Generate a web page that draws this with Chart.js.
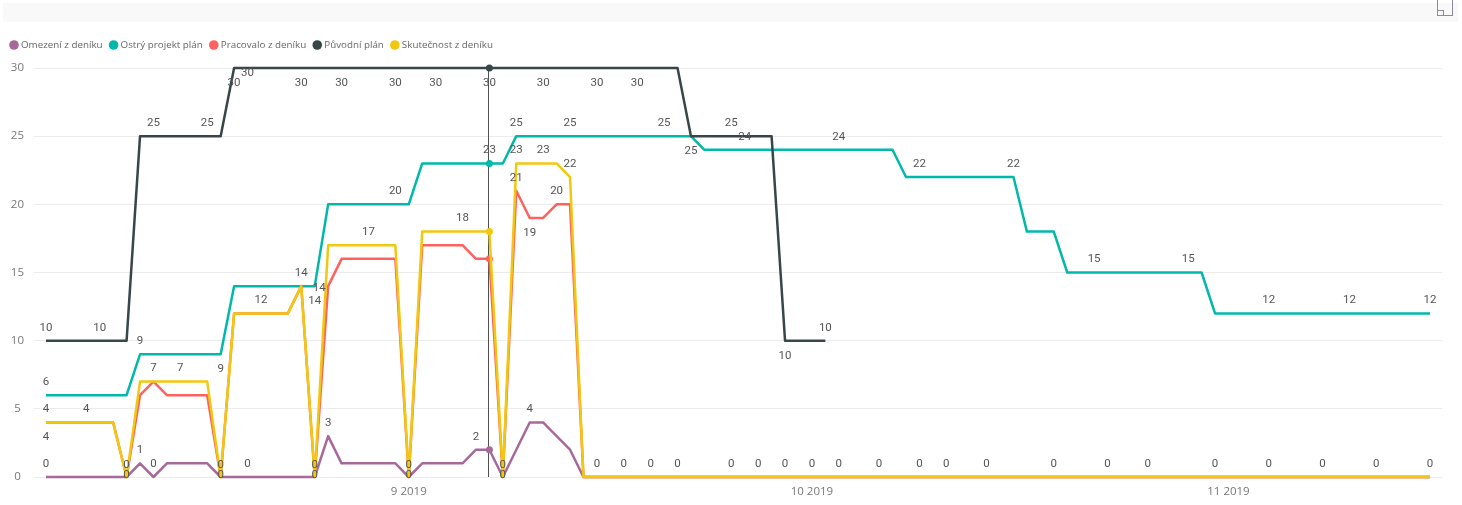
<!DOCTYPE html>
<html lang="cs">
<head>
<meta charset="utf-8">
<title>Plán a skutečnost</title>
<script src="https://cdn.jsdelivr.net/npm/chart.js@4.4.1/dist/chart.umd.min.js"></script>
<style>
  html, body { margin: 0; padding: 0; background: #ffffff; }
  #frame { position: relative; width: 1462px; height: 505px; overflow: hidden; }
  #header { position: absolute; left: 3px; top: 3px; width: 1455px; height: 19px; background: #f9f9f9; }
  #focus { position: absolute; left: 1437px; top: -2px; width: 16px; height: 18px; border: 1px solid #8c8aa3; box-sizing: border-box; }
  #focus::after { content: ''; position: absolute; left: -1px; top: 11px; width: 6px; height: 5px; border-top: 1px solid #8c8aa3; border-right: 1px solid #8c8aa3; }
  #chart { position: absolute; left: 0; top: 0; }
</style>
</head>
<body>
<div id="frame">
  <div id="header"></div>
  <div id="focus"></div>
  <canvas id="chart" width="1462" height="505"></canvas>
</div>
<script>
// Daily values, one entry per day from Monday 5 Aug 2019 (rows are Mon..Sun weeks)
const firstDate = '2019-08-05';

const seriesNames = ['Omezení z deníku', 'Ostrý projekt plán', 'Pracovalo z deníku', 'Původní plán', 'Skutečnost z deníku'];

const omezeni = [
  0, 0, 0, 0, 0, 0, 0,
  1, 0, 1, 1, 1, 1, 0,
  0, 0, 0, 0, 0, 0, 0,
  3, 1, 1, 1, 1, 1, 0,
  1, 1, 1, 1, 2, 2, 0,
  2, 4, 4, 3, 2, 0, 0,
  0, 0, 0, 0, 0, 0, 0,
  0, 0, 0, 0, 0, 0, 0,
  0, 0, 0, 0, 0, 0, 0,
  0, 0, 0, 0, 0, 0, 0,
  0, 0, 0, 0, 0, 0, 0,
  0, 0, 0, 0, 0, 0, 0,
  0, 0, 0, 0, 0, 0, 0,
  0, 0, 0, 0, 0, 0, 0,
  0, 0, 0, 0, 0, 0
];

const ostryPlan = [
  6, 6, 6, 6, 6, 6, 6,
  9, 9, 9, 9, 9, 9, 9,
  14, 14, 14, 14, 14, 14, 14,
  20, 20, 20, 20, 20, 20, 20,
  23, 23, 23, 23, 23, 23, 23,
  25, 25, 25, 25, 25, 25, 25,
  25, 25, 25, 25, 25, 25, 25,
  24, 24, 24, 24, 24, 24, 24,
  24, 24, 24, 24, 24, 24, 24,
  24, 22, 22, 22, 22, 22, 22,
  22, 22, 22, 18, 18, 18, 15,
  15, 15, 15, 15, 15, 15, 15,
  15, 15, 15, 12, 12, 12, 12,
  12, 12, 12, 12, 12, 12, 12,
  12, 12, 12, 12, 12, 12
];

const pracovalo = [
  4, 4, 4, 4, 4, 4, 0,
  6, 7, 6, 6, 6, 6, 0,
  12, 12, 12, 12, 12, 14, 0,
  14, 16, 16, 16, 16, 16, 0,
  17, 17, 17, 17, 16, 16, 0,
  21, 19, 19, 20, 20, 0, 0,
  0, 0, 0, 0, 0, 0, 0,
  0, 0, 0, 0, 0, 0, 0,
  0, 0, 0, 0, 0, 0, 0,
  0, 0, 0, 0, 0, 0, 0,
  0, 0, 0, 0, 0, 0, 0,
  0, 0, 0, 0, 0, 0, 0,
  0, 0, 0, 0, 0, 0, 0,
  0, 0, 0, 0, 0, 0, 0,
  0, 0, 0, 0, 0, 0
];

const puvodniPlan = [
  10, 10, 10, 10, 10, 10, 10,
  25, 25, 25, 25, 25, 25, 25,
  30, 30, 30, 30, 30, 30, 30,
  30, 30, 30, 30, 30, 30, 30,
  30, 30, 30, 30, 30, 30, 30,
  30, 30, 30, 30, 30, 30, 30,
  30, 30, 30, 30, 30, 30, 25,
  25, 25, 25, 25, 25, 25, 10,
  10, 10, 10, null, null, null, null,
  null, null, null, null, null, null, null,
  null, null, null, null, null, null, null,
  null, null, null, null, null, null, null,
  null, null, null, null, null, null, null,
  null, null, null, null, null, null, null,
  null, null, null, null, null, null
];

const skutecnost = [
  4, 4, 4, 4, 4, 4, 0,
  7, 7, 7, 7, 7, 7, 0,
  12, 12, 12, 12, 12, 14, 0,
  17, 17, 17, 17, 17, 17, 0,
  18, 18, 18, 18, 18, 18, 0,
  23, 23, 23, 23, 22, 0, 0,
  0, 0, 0, 0, 0, 0, 0,
  0, 0, 0, 0, 0, 0, 0,
  0, 0, 0, 0, 0, 0, 0,
  0, 0, 0, 0, 0, 0, 0,
  0, 0, 0, 0, 0, 0, 0,
  0, 0, 0, 0, 0, 0, 0,
  0, 0, 0, 0, 0, 0, 0,
  0, 0, 0, 0, 0, 0, 0,
  0, 0, 0, 0, 0, 0
];

// Month ticks on the date axis
const monthTickDates = ['2019-09-01', '2019-10-01', '2019-11-01'];
const monthTickLabels = ['9 2019', '10 2019', '11 2019'];

// Day under the hover crosshair
const hoverDate = '2019-09-07';

// ---- derived tables ----
const dayMs = 86400000;
const t0 = Date.parse(firstDate + 'T00:00:00Z');
const days = omezeni.map((_, i) => new Date(t0 + i * dayMs).toISOString().slice(0, 10));
const monthTicks = monthTickDates.map((d, k) => ({ value: days.indexOf(d), label: monthTickLabels[k] }));
const hoverDay = days.indexOf(hoverDate);

const colors = ['#A66999', '#01B8AA', '#FD625E', '#374649', '#F2C80F'];
const seriesValues = [omezeni, ostryPlan, pracovalo, puvodniPlan, skutecnost];

// Where each series shows its value labels: [day, vertical offset, horizontal offset]
const UP = -13, DOWN = 15;
const sundays = [6, 13, 20, 27, 34];
const labelSpots = [
  [[0, UP], [7, UP], [8, UP], [15, UP], [21, UP], [32, UP], [36, UP]],
  [[0, UP], [7, UP], [13, DOWN], [19, UP], [20, DOWN], [26, UP], [33, UP], [35, UP], [39, UP], [46, UP],
   [52, UP], [59, UP], [65, UP], [72, UP], [78, UP], [85, UP], [91, UP], [97, UP], [103, UP]],
  [[0, DOWN], [21, 2, -9], [35, UP], [36, DOWN], [38, UP]].concat(sundays.map(d => [d, -2])),
  [[0, UP], [4, UP], [8, UP], [12, UP], [14, DOWN], [15, 5], [19, DOWN], [22, DOWN], [26, DOWN], [29, DOWN],
   [33, DOWN], [37, DOWN], [41, DOWN], [44, DOWN], [48, DOWN], [51, UP], [55, DOWN], [58, UP]],
  [[0, UP], [3, UP], [8, UP], [10, UP], [16, UP], [24, UP], [31, UP], [35, UP], [37, UP], [39, UP]]
    .concat(sundays.map(d => [d, UP + 1]))
    .concat([41, 43, 45, 47, 51, 53, 55, 57, 59, 62, 65, 67, 70, 75, 79, 82, 87, 91, 95, 99, 103].map(d => [d, UP]))
];

const datasets = seriesNames.map((name, s) => ({
  label: name,
  data: seriesValues[s].map((v, i) => ({ x: i, y: v })),
  borderColor: colors[s],
  backgroundColor: colors[s],
  borderWidth: 2.5,
  tension: 0,
  spanGaps: false,
  fill: false,
  clip: false,
  borderJoinStyle: 'round',
  pointRadius: ctx => (ctx.dataIndex === hoverDay ? 3.5 : 0),
  pointBorderWidth: 0,
  pointHoverRadius: 0,
  order: seriesNames.length - s,
  labelSpots: labelSpots[s]
}));

const axisFont = { family: "'Open Sans', 'Noto Sans', sans-serif", size: 11.5 };

// Vertical crosshair at the hovered day
const crosshair = {
  id: 'crosshair',
  beforeDatasetsDraw(chart) {
    const { ctx, chartArea } = chart;
    const x = Math.round(chart.scales.x.getPixelForValue(hoverDay)) - 0.5;
    ctx.save();
    ctx.strokeStyle = '#505050';
    ctx.lineWidth = 1;
    ctx.beginPath();
    ctx.moveTo(x, chartArea.top);
    ctx.lineTo(x, chartArea.bottom);
    ctx.stroke();
    ctx.restore();
  }
};

// Value labels next to selected points
const valueLabels = {
  id: 'valueLabels',
  afterDatasetsDraw(chart) {
    const { ctx } = chart;
    ctx.save();
    ctx.font = "11.5px Roboto, 'DejaVu Sans', sans-serif";
    ctx.fillStyle = '#555555';
    ctx.textAlign = 'center';
    ctx.textBaseline = 'middle';
    chart.data.datasets.forEach((ds, di) => {
      const meta = chart.getDatasetMeta(di);
      (ds.labelSpots || []).forEach(([i, dy, dx = 0]) => {
        const pt = meta.data[i];
        const v = ds.data[i].y;
        if (!pt || v === null) return;
        ctx.fillText(String(v), pt.x + dx, pt.y + dy);
      });
    });
    ctx.restore();
  }
};

// Legend row with round markers
const seriesLegend = {
  id: 'seriesLegend',
  afterDraw(chart) {
    const { ctx } = chart;
    ctx.save();
    ctx.font = "9.8px 'Open Sans', 'Noto Sans', sans-serif";
    ctx.textBaseline = 'middle';
    ctx.textAlign = 'left';
    let cx = 14;
    const cy = 45;
    chart.data.datasets.forEach((ds, i) => {
      ctx.fillStyle = colors[i];
      ctx.beginPath();
      ctx.arc(cx, cy, 4.8, 0, Math.PI * 2);
      ctx.fill();
      ctx.fillStyle = '#666666';
      const tx = cx + 7;
      ctx.fillText(ds.label, tx, cy);
      cx = tx + ctx.measureText(ds.label).width + 11;
    });
    ctx.restore();
  }
};

new Chart(document.getElementById('chart'), {
  type: 'line',
  data: { datasets },
  options: {
    responsive: false,
    animation: false,
    events: [],
    layout: { padding: { top: 68, right: 20, left: 0, bottom: 0 } },
    plugins: { legend: { display: false }, tooltip: { enabled: false } },
    scales: {
      x: {
        type: 'linear',
        min: -0.89,
        max: days.length - 1 + 0.89,
        grid: { display: false, drawTicks: false },
        border: { display: false },
        afterBuildTicks: scale => { scale.ticks = monthTicks.map(t => ({ value: t.value })); },
        afterFit: scale => { scale.height = 28; },
        ticks: {
          autoSkip: false,
          maxRotation: 0,
          padding: 8,
          color: '#777777',
          font: axisFont,
          callback: value => {
            const t = monthTicks.find(m => m.value === value);
            return t ? t.label : '';
          }
        }
      },
      y: {
        min: 0,
        max: 30,
        grid: { color: '#ececec', lineWidth: 1, drawTicks: false },
        border: { display: false },
        afterFit: scale => { scale.width = 34; },
        ticks: {
          stepSize: 5,
          crossAlign: 'center',
          padding: 10,
          color: '#777777',
          font: axisFont
        }
      }
    }
  },
  plugins: [crosshair, valueLabels, seriesLegend]
});
</script>
</body>
</html>
